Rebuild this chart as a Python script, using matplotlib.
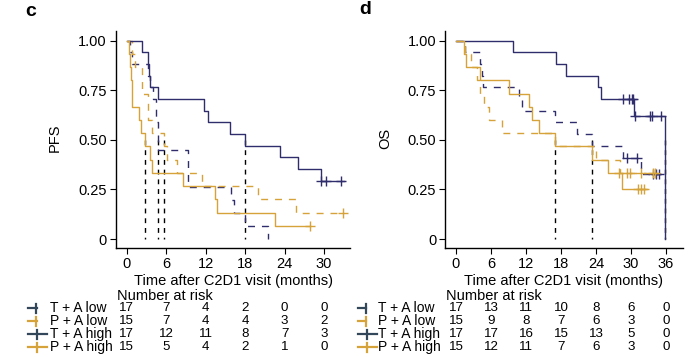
import numpy as np
import matplotlib.pyplot as plt
import matplotlib.transforms as mtransforms
from matplotlib.lines import Line2D

plt.rcParams['font.family'] = ['Liberation Sans', 'DejaVu Sans']

NAVY = '#2f2d6c'
GOLD = '#d6a23a'
SLATE = '#33475b'

# ---- PFS (panel c) ----
pfs_tal_t = [0, 0.5, 0.8, 3.3, 3.6, 4.0, 4.4, 4.8, 9.3, 15.9, 16.3, 18.0, 21.5]
pfs_tal_s = [1, .941, .882, .824, .765, .706, .588, .449, .264, .198, .132, .066, 0]
pfs_tal_end = 21.5
pfs_tal_cens = []

pfs_pal_t = [0, 0.8, 1.3, 2.3, 3.3, 3.8, 5.6, 6.1, 7.6, 11.4, 20.0, 25.8]
pfs_pal_s = [1, .933, .867, .733, .6, .533, .467, .4, .333, .267, .2, .133]
pfs_pal_end = 32.9
pfs_pal_cens = [32.9]

pfs_tah_t = [0, 2.3, 3.3, 3.4, 3.5, 4.7, 11.8, 12.4, 15.7, 18.0, 23.3, 26.1, 29.5]
pfs_tah_s = [1, .941, .882, .824, .765, .706, .647, .588, .529, .471, .412, .353, .294]
pfs_tah_end = 33.1
pfs_tah_cens = [29.6, 30.3, 32.6]

pfs_pah_t = [0, 0.3, 0.5, 0.6, 0.8, 1.8, 2.1, 2.8, 3.5, 3.8, 8.6, 13.4, 13.7, 22.6]
pfs_pah_s = [1, .933, .867, .8, .667, .6, .533, .467, .4, .333, .267, .2, .133, .067]
pfs_pah_end = 27.9
pfs_pah_cens = [27.9]

pfs_medians = [2.8, 4.8, 5.6, 18.0]

# ---- OS (panel d) ----
os_tal_t = [0, 1.5, 4.1, 4.4, 4.7, 10.8, 11.3, 17.0, 20.8, 23.3, 28.7, 31.7]
os_tal_s = [1, .941, .882, .824, .765, .706, .647, .588, .529, .47, .411, .329]
os_tal_end = 35.1
os_tal_cens = [29.3, 31.0, 33.8, 34.3, 34.8]

os_pal_t = [0, 1.6, 2.6, 3.6, 4.1, 4.8, 5.6, 7.9, 17.0, 24.0, 28.2]
os_pal_s = [1, .933, .867, .8, .733, .667, .6, .533, .467, .4, .333]
os_pal_end = 34.6
os_pal_cens = [29.3, 29.8, 31.8, 33.7, 34.1]

os_tah_t = [0, 9.7, 17.1, 18.9, 24.3, 24.9, 30.5, 35.9]
os_tah_s = [1, .941, .882, .824, .765, .706, .618, 0]
os_tah_end = 35.9
os_tah_cens = [28.7, 29.7, 30.1, 30.4, 30.7, 33.3, 33.6, 35.1]

os_pah_t = [0, 1.4, 1.8, 4.1, 9.1, 12.5, 13.1, 14.2, 17.0, 23.3, 26.1, 28.4]
os_pah_s = [1, .933, .867, .8, .733, .667, .6, .533, .467, .4, .333, .25]
os_pah_end = 32.7
os_pah_cens = [27.9, 31.2, 31.7, 32.3]

os_medians = [17.0, 23.3, 35.9]

groups = ['T + A low', 'P + A low', 'T + A high', 'P + A high']
pfs_ticks = [0, 6, 12, 18, 24, 30]
pfs_risk = [[17, 7, 4, 2, 0, 0],
            [15, 7, 4, 4, 3, 2],
            [17, 12, 11, 8, 7, 3],
            [15, 5, 4, 2, 1, 0]]
os_ticks = [0, 6, 12, 18, 24, 30, 36]
os_risk = [[17, 13, 11, 10, 8, 6, 0],
           [15, 9, 8, 7, 6, 3, 0],
           [17, 17, 16, 15, 13, 5, 0],
           [15, 12, 11, 7, 6, 3, 0]]


def surv_at(t, s, x):
    # value of the step function at x
    idx = np.searchsorted(t, x, side='right') - 1
    return s[idx]


def draw_curve(ax, t, s, end, cens, color, ls):
    xx = list(t) + [end]
    yy = list(s) + [s[-1]]
    ax.step(xx, yy, where='post', color=color, lw=1.0, ls=ls)
    if cens:
        cy = [surv_at(t, s, c) for c in cens]
        ax.plot(cens, cy, ls='none', marker='+', ms=7, mew=1.0, color=color)


W, H = 692, 357
fig = plt.figure(figsize=(W / 100, H / 100), dpi=100)
axL = fig.add_axes([116 / W, 1 - 248 / H, 234 / W, 217 / H])
axR = fig.add_axes([445.3 / W, 1 - 248 / H, 237.4 / W, 217 / H])

dash = (0, (5, 5))
med_dash = (0, (3.5, 3.5))

for ax, meds in [(axL, pfs_medians), (axR, os_medians)]:
    for m in meds:
        ax.plot([m, m], [0.5, 0], color='black', lw=1.0, ls=med_dash)

draw_curve(axL, pfs_tal_t, pfs_tal_s, pfs_tal_end, pfs_tal_cens, NAVY, dash)
draw_curve(axL, pfs_pal_t, pfs_pal_s, pfs_pal_end, pfs_pal_cens, GOLD, dash)
draw_curve(axL, pfs_tah_t, pfs_tah_s, pfs_tah_end, pfs_tah_cens, NAVY, '-')
draw_curve(axL, pfs_pah_t, pfs_pah_s, pfs_pah_end, pfs_pah_cens, GOLD, '-')

draw_curve(axR, os_tal_t, os_tal_s, os_tal_end, os_tal_cens, NAVY, dash)
draw_curve(axR, os_pal_t, os_pal_s, os_pal_end, os_pal_cens, GOLD, dash)
draw_curve(axR, os_tah_t, os_tah_s, os_tah_end, os_tah_cens, NAVY, '-')
draw_curve(axR, os_pah_t, os_pah_s, os_pah_end, os_pah_cens, GOLD, '-')

axL.set_xlim(-1.63, 33.95)
axR.set_xlim(-1.83, 38.87)
for ax, ticks, ylab in [(axL, pfs_ticks, 'PFS'), (axR, os_ticks, 'OS')]:
    ax.set_ylim(-0.045, 1.049)
    ax.set_xticks(ticks)
    ax.set_yticks([0, 0.25, 0.5, 0.75, 1.0])
    ax.set_yticklabels(['0', '0.25', '0.50', '0.75', '1.00'])
    for sp in ['top', 'right']:
        ax.spines[sp].set_visible(False)
    for sp in ['left', 'bottom']:
        ax.spines[sp].set_linewidth(1.0)
    ax.tick_params(direction='out', length=4, width=0.8, labelsize=10.5,
                   colors='black', pad=2.5)
    ax.set_xlabel('Time after C2D1 visit (months)', fontsize=10.5)
    ax.xaxis.set_label_coords(0.5, -0.118)
    ax.set_ylabel(ylab, fontsize=10.5)
    ax.set_facecolor('none')
axL.yaxis.set_label_coords((62 - 116) / 234, 0.507)
axR.yaxis.set_label_coords((392.7 - 445.3) / 237.4, 0.507)

fig.text(31 / W, 1 - 11 / H, 'c', fontsize=14, fontweight='bold', ha='center', va='center')
fig.text(365 / W, 1 - 10 / H, 'd', fontsize=14, fontweight='bold', ha='center', va='center')

# number at risk tables
row_y = [308.3, 321, 334.3, 347]
colors = [SLATE, GOLD, SLATE, GOLD]
for ax, ticks, risk, head_x, lab_x, mk_x in [
        (axL, pfs_ticks, pfs_risk, 117, 50, 28.3),
        (axR, os_ticks, os_risk, 446, 378, 357.7)]:
    fig.text(head_x / W, 1 - 295.5 / H, 'Number at risk', fontsize=10.5, ha='left', va='center')
    tr = mtransforms.blended_transform_factory(ax.transData, fig.transFigure)
    for i, row in enumerate(risk):
        yf = 1 - row_y[i] / H
        for tk, n in zip(ticks, row):
            fig.text(tk, yf, str(n), transform=tr, fontsize=9.6, ha='center', va='center')
        fig.text(lab_x / W, yf, groups[i], fontsize=10, ha='left', va='center')
        if i < 2:
            x0, x1, xv = mk_x, mk_x + 8.5, mk_x + 8
        else:
            x0, x1, xv = mk_x, mk_x + 19, mk_x + 9
        fig.add_artist(Line2D([x0 / W, x1 / W], [yf, yf], color=colors[i], lw=1.6,
                              transform=fig.transFigure))
        fig.add_artist(Line2D([xv / W, xv / W], [yf - 4.5 / H, yf + 4.5 / H], color=colors[i],
                              lw=1.6, transform=fig.transFigure))

fig.savefig('out.png', dpi=100)
